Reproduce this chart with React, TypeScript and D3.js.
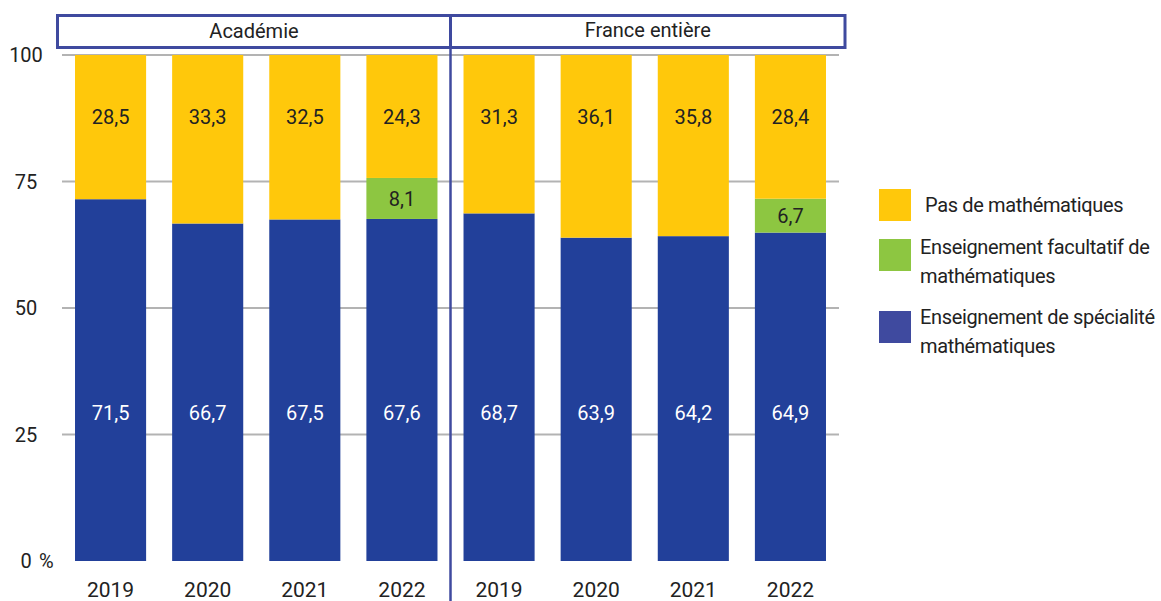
import React from "react";
import * as d3 from "d3";

const years = ["2019", "2020", "2021", "2022"];
const groups = ["Académie", "France entière"];
const specialite = [71.5, 66.7, 67.5, 67.6, 68.7, 63.9, 64.2, 64.9];
const facultatif = [0, 0, 0, 8.1, 0, 0, 0, 6.7];
const pasMaths = [28.5, 33.3, 32.5, 24.3, 31.3, 36.1, 35.8, 28.4];
const yTicks = [0, 25, 50, 75, 100];
const legendLabels = [
  ["Pas de mathématiques"],
  ["Enseignement facultatif de", "mathématiques"],
  ["Enseignement de spécialité", "mathématiques"],
];

const W = 1161;
const H = 601;
const FONT = "Roboto, 'Liberation Sans', sans-serif";
const BLUE = "#22409a";
const YELLOW = "#ffc80b";
const GREEN = "#8dc641";
const FRAME = "#3f4a9f";
const TEXT = "#222";

export default function App() {
  const keys = groups.flatMap((g) => years.map((y) => g + "|" + y));
  const x = d3.scaleBand<string>().domain(keys).range([62, 839]).paddingInner(0.268).paddingOuter(0.134);
  const y = d3.scaleLinear().domain([0, 100]).range([561, 55]);
  const bw = x.bandwidth();

  const series = [
    { key: "spec", values: specialite, color: BLUE },
    { key: "fac", values: facultatif, color: GREEN },
    { key: "pas", values: pasMaths, color: YELLOW },
  ];
  const rows = keys.map((k, i) => ({ k, spec: specialite[i], fac: facultatif[i], pas: pasMaths[i] }));
  const stack = d3.stack<any>().keys(["spec", "fac", "pas"])(rows);

  const fmt = (v: number) => v.toFixed(1).replace(".", ",");
  const sepX = (x(keys[3])! + bw + x(keys[4])!) / 2;

  return (
    <svg width={W} height={H} style={{ position: "absolute", left: 0, top: 0, background: "#fff" }} fontFamily={FONT}>
      {yTicks.slice(1).map((t) => (
        <line key={t} x1={62} x2={839} y1={y(t)} y2={y(t)} stroke="#b3b3b3" strokeWidth={2} />
      ))}
      {yTicks.map((t) => (
        <g key={"l" + t}>
          <text x={26} y={y(t)} dy="0.36em" textAnchor="middle" fontSize={20} fill={TEXT}>
            {t}
          </text>
          {t === 0 && (
            <text x={39} y={y(t)} dy="0.36em" textAnchor="start" fontSize={20} fill={TEXT}>
              %
            </text>
          )}
        </g>
      ))}
      {stack.map((layer, si) =>
        layer.map((d, i) => {
          const v = series[si].values[i];
          if (!v) return null;
          return (
            <rect
              key={si + "-" + i}
              x={x(keys[i])}
              y={y(d[1])}
              width={bw}
              height={y(d[0]) - y(d[1])}
              fill={series[si].color}
            />
          );
        })
      )}
      {keys.map((k, i) => {
        const cx = x(k)! + bw / 2;
        const f = stack[1][i];
        return (
          <g key={"v" + k} fontSize={20} textAnchor="middle">
            <text x={cx} y={y(29.3)} dy="0.36em" fill="#fff">
              {fmt(specialite[i])}
            </text>
            {facultatif[i] > 0 && (
              <text x={cx} y={(y(f[0]) + y(f[1])) / 2} dy="0.36em" fill={TEXT}>
                {fmt(facultatif[i])}
              </text>
            )}
            <text x={cx} y={y(87.8)} dy="0.36em" fill={TEXT}>
              {fmt(pasMaths[i])}
            </text>
          </g>
        );
      })}
      {keys.map((k, i) => (
        <text key={"x" + k} x={x(k)! + bw / 2} y={589} dy="0.36em" textAnchor="middle" fontSize={21} fill={TEXT}>
          {years[i % 4]}
        </text>
      ))}
      <rect x={57.5} y={15.5} width={sepX - 57.5} height={32} fill="none" stroke={FRAME} strokeWidth={3} />
      <rect x={sepX} y={15.5} width={845 - sepX} height={32} fill="none" stroke={FRAME} strokeWidth={3} />
      <text x={(57.5 + sepX) / 2} y={31} dy="0.36em" textAnchor="middle" fontSize={20} fill={TEXT}>
        {groups[0]}
      </text>
      <text x={(sepX + 845) / 2} y={30} dy="0.36em" textAnchor="middle" fontSize={20} fill={TEXT}>
        {groups[1]}
      </text>
      <line x1={sepX} x2={sepX} y1={15} y2={H} stroke={FRAME} strokeWidth={2.5} />
      {[YELLOW, GREEN, FRAME].map((c, i) => {
        const top = [189, 239, 311][i];
        return (
          <g key={"lg" + i}>
            <rect x={879} y={top} width={32} height={32} fill={c} />
            {legendLabels[i].map((line, j) => (
              <text
                key={j}
                x={i === 0 ? 925 : 920}
                y={(i === 0 ? 212 : i === 1 ? 254 : 324) + j * 29}
                fontSize={20}
                letterSpacing={-0.35}
                fill={TEXT}
              >
                {line}
              </text>
            ))}
          </g>
        );
      })}
    </svg>
  );
}
